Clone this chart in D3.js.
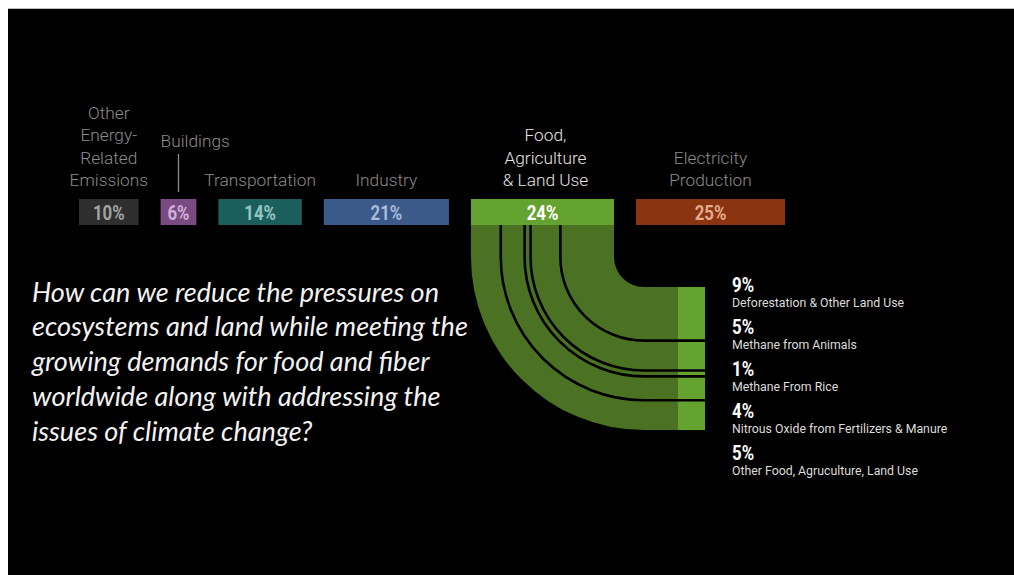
<!DOCTYPE html>
<html>
<head>
<meta charset="utf-8">
<script src="https://cdn.jsdelivr.net/npm/d3@7"></script>
<style>
  html, body { margin: 0; padding: 0; background: #ffffff; }
  svg { display: block; }
</style>
</head>
<body>
<svg id="chart" width="1014" height="575"></svg>
<script>
// ---------------- DATA ----------------
const sectors = ["Other Energy-Related Emissions", "Buildings", "Transportation", "Industry", "Food, Agriculture & Land Use", "Electricity Production"];
const sectorShares = [10, 6, 14, 21, 24, 25];
const sectorLabelLines = [
  ["Other", "Energy-", "Related", "Emissions"],
  ["Buildings"],
  ["Transportation"],
  ["Industry"],
  ["Food,", "Agriculture", "& Land Use"],
  ["Electricity", "Production"]
];
const subCategories = ["Deforestation & Other Land Use", "Methane from Animals", "Methane From Rice", "Nitrous Oxide from Fertilizers & Manure", "Other Food, Agruculture, Land Use"];
const subShares = [9, 5, 1, 4, 5];
const questionLines = [
  "How can we reduce the pressures on",
  "ecosystems and land while meeting the",
  "growing demands for food and fiber",
  "worldwide along with addressing the",
  "issues of climate change?"
];

// ---------------- STYLE ----------------
const barFill  = ["#2e2e2e", "#7a4a82", "#1b5f5c", "#3b5a8a", "#65a330", "#8a3410"];
const barText  = ["#a3a3a3", "#cfb0d6", "#95c4c2", "#a9bbdc", "#ffffff", "#e3ab8c"];
const labelCol = ["#8c8c8c", "#8c8c8c", "#8c8c8c", "#8c8c8c", "#e4e4e4", "#8c8c8c"];
const bandDark = "#4a7222";
const bandLight = "#65a330";

const svg = d3.select("#chart");
const W = 1014, H = 575;

// black slide area (white frame on top/left)
svg.append("rect").attr("x", 0).attr("y", 0).attr("width", W).attr("height", H).attr("fill", "#ffffff");
svg.append("line").attr("x1", 8).attr("x2", W).attr("y1", 8.5).attr("y2", 8.5).attr("stroke", "#bdbdbd").attr("stroke-width", 1);
svg.append("rect").attr("x", 8).attr("y", 9).attr("width", W - 8).attr("height", H - 9).attr("fill", "#000000");

// ---------------- SCALES ----------------
const barLeft = 79, barGap = 22, barTop = 199, barH = 26;
const w = d3.scaleLinear().domain([0, 100]).range([0, 596]);

const bars = [];
let acc = barLeft;
sectorShares.forEach((v, i) => {
  bars.push({ name: sectors[i], value: v, x0: acc, x1: acc + w(v), i });
  acc += w(v) + barGap;
});

// ---------------- SECTOR BARS ----------------
const gBars = svg.append("g");
gBars.selectAll("rect").data(bars).join("rect")
  .attr("x", d => d.x0).attr("y", barTop)
  .attr("width", d => d.x1 - d.x0).attr("height", barH)
  .attr("fill", d => barFill[d.i]);

const pctFont = "Roboto, 'DejaVu Sans', sans-serif";
gBars.selectAll("text").data(bars).join("text")
  .attr("transform", d => `translate(${(d.x0 + d.x1) / 2},${barTop + 21}) scale(0.8,1)`)
  .attr("text-anchor", "middle")
  .attr("font-family", pctFont).attr("font-weight", 700).attr("font-size", 21)
  .attr("fill", d => barText[d.i])
  .text(d => d.value + "%");

// ---------------- SECTOR LABELS ----------------
const lblFont = "Roboto, 'Liberation Sans', sans-serif";
const lblSize = 17.3;
const lineStep = 22.3, lastBase = 186;
bars.forEach(d => {
  const lines = sectorLabelLines[d.i];
  const cx = (d.x0 + d.x1) / 2 + (d.i === 4 ? 3 : 0);
  if (d.name === "Buildings") {
    svg.append("text")
      .attr("x", d.x0).attr("y", 147)
      .attr("font-family", lblFont).attr("font-weight", 300).attr("font-size", lblSize)
      .attr("fill", labelCol[d.i]).text(lines[0]);
    svg.append("line")
      .attr("x1", cx).attr("x2", cx).attr("y1", 154).attr("y2", 192)
      .attr("stroke", "#8c8c8c").attr("stroke-width", 1.3);
    return;
  }
  const t = svg.append("text")
    .attr("text-anchor", "middle")
    .attr("font-family", lblFont).attr("font-weight", 300).attr("font-size", lblSize)
    .attr("fill", labelCol[d.i]);
  lines.forEach((ln, k) => {
    t.append("tspan").attr("x", cx)
      .attr("y", lastBase - (lines.length - 1 - k) * lineStep)
      .text(ln);
  });
});

// ---------------- FOOD FLOW ----------------
const food = bars[4];
const topY = barTop + barH;           // 225
const cx = food.x1 + 30;               // arc centre x
const cy = topY + 32;                  // arc centre y
const rInner = cx - food.x1;           // 30
const rOuter = cx - food.x0;           // 173
const darkEnd = cx + 34;               // start of light bar
const lightEnd = darkEnd + 27;

// band
const bandPath = d3.path();
bandPath.moveTo(food.x0, topY);
bandPath.lineTo(food.x0, cy);
bandPath.arc(cx, cy, rOuter, Math.PI, Math.PI / 2, true);
bandPath.lineTo(darkEnd, cy + rOuter);
bandPath.lineTo(darkEnd, cy + rInner);
bandPath.lineTo(cx, cy + rInner);
bandPath.arc(cx, cy, rInner, Math.PI / 2, Math.PI, false);
bandPath.lineTo(food.x1, topY);
bandPath.closePath();
svg.append("path").attr("d", bandPath.toString()).attr("fill", bandDark);

svg.append("rect")
  .attr("x", darkEnd).attr("y", cy + rInner)
  .attr("width", lightEnd - darkEnd).attr("height", rOuter - rInner)
  .attr("fill", bandLight);

// divider lines (inner sub-flow = first item)
const cum = d3.cumsum(subShares);
const boundaries = cum.slice(0, -1).map(c => rInner + w(c));
boundaries.forEach(r => {
  const p = d3.path();
  p.moveTo(cx - r, topY);
  p.lineTo(cx - r, cy);
  p.arc(cx, cy, r, Math.PI, Math.PI / 2, true);
  p.lineTo(lightEnd, cy + r);
  svg.append("path").attr("d", p.toString())
    .attr("fill", "none").attr("stroke", "#000").attr("stroke-width", 2.6);
});

// ---------------- SUB LABELS ----------------
const subX = 732, subBase0 = 292, subStep = 42;
subShares.forEach((v, i) => {
  const y = subBase0 + i * subStep;
  svg.append("text")
    .attr("transform", `translate(${subX},${y}) scale(0.8,1)`)
    .attr("font-family", pctFont).attr("font-weight", 700).attr("font-size", 21)
    .attr("fill", "#ffffff").text(v + "%");
  svg.append("text")
    .attr("x", subX).attr("y", y + 14.5)
    .attr("font-family", lblFont).attr("font-weight", 400).attr("font-size", 12.3)
    .attr("fill", "#dcdcdc").text(subCategories[i]);
});

// ---------------- QUESTION ----------------
const qFont = "Lato, 'Open Sans', sans-serif";
const qSize = 25;
const q = svg.append("g");
questionLines.forEach((ln, k) => {
  q.append("text")
    .attr("x", 32).attr("y", 301.5 + k * 34.8)
    .attr("font-family", qFont).attr("font-style", "italic").attr("font-size", qSize)
    .attr("fill", "#f2f2f2").text(ln);
});
// fit the longest line to the reference width
const widest = d3.max(q.selectAll("text").nodes(), n => n.getComputedTextLength());
const fitted = qSize * 436 / widest;
q.selectAll("text").attr("font-size", fitted);
</script>
</body>
</html>
